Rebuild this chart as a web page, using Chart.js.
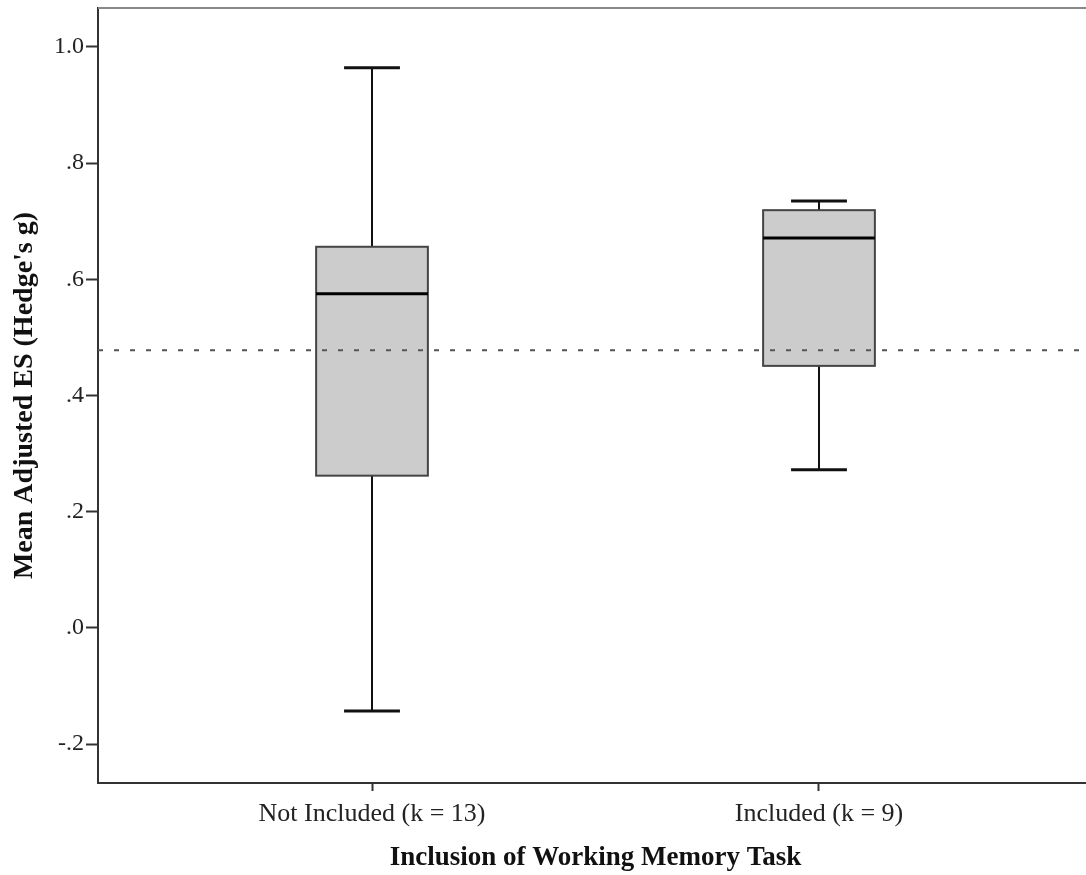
<!DOCTYPE html>
<html>
<head>
    <title>Inclusion of Working Memory Task</title>
    <script src="https://cdn.jsdelivr.net/npm/chart.js"></script>
    <style>
        body { margin: 0; overflow: hidden; background: #fff; }
    </style>
</head>
<body>
    <canvas id="boxChart" width="1100" height="875" style="display:block; width:1100px; height:875px;"></canvas>
    <script>
        // カテゴリと箱ひげの値
        const categories = ["Not Included (k = 13)", "Included (k = 9)"];
        const whiskerLow = [-0.143, 0.272];
        const q1Values = [0.262, 0.451];
        const medians = [0.575, 0.671];
        const q3Values = [0.656, 0.719];
        const whiskerHigh = [0.964, 0.735];
        const meanES = 0.478; // 全体の平均 (点線)

        // 軸の範囲と目盛り
        const xRange = [-0.613, 1.613];
        const yRange = [-0.267, 1.067];
        const yTickValues = [-0.2, 0, 0.2, 0.4, 0.6, 0.8, 1.0];
        const yTickLabels = ["-.2", ".0", ".2", ".4", ".6", ".8", "1.0"];

        const tickFont = { family: "'Liberation Serif', serif", size: 24 };
        const xTickFont = { family: "'Liberation Serif', serif", size: 26 };
        const titleFont = { family: "'Liberation Serif', serif", size: 27, weight: "bold" };
        const yTitleFont = { family: "'Liberation Serif', serif", size: 28, weight: "bold" };

        // 箱ひげ図をスケール経由で描く
        const boxPlugin = {
            id: "boxes",
            beforeDatasetsDraw(chart) {
                const { ctx, chartArea, scales: { x, y } } = chart;
                ctx.save();
                // 上の枠線
                ctx.strokeStyle = "#888";
                ctx.lineWidth = 2;
                ctx.beginPath();
                ctx.moveTo(chartArea.left, chartArea.top);
                ctx.lineTo(chartArea.right, chartArea.top);
                ctx.stroke();

                categories.forEach((c, i) => {
                    const cx = x.getPixelForValue(i);
                    const bl = x.getPixelForValue(i - 0.125);
                    const br = x.getPixelForValue(i + 0.125);
                    const cl = x.getPixelForValue(i - 0.0625);
                    const cr = x.getPixelForValue(i + 0.0625);
                    const yLo = y.getPixelForValue(whiskerLow[i]);
                    const yQ1 = y.getPixelForValue(q1Values[i]);
                    const yMed = y.getPixelForValue(medians[i]);
                    const yQ3 = y.getPixelForValue(q3Values[i]);
                    const yHi = y.getPixelForValue(whiskerHigh[i]);

                    // ひげ
                    ctx.strokeStyle = "#111";
                    ctx.lineWidth = 2;
                    ctx.beginPath();
                    ctx.moveTo(cx, yHi); ctx.lineTo(cx, yQ3);
                    ctx.moveTo(cx, yQ1); ctx.lineTo(cx, yLo);
                    ctx.stroke();
                    ctx.lineWidth = 3;
                    ctx.beginPath();
                    ctx.moveTo(cl, yHi); ctx.lineTo(cr, yHi);
                    ctx.moveTo(cl, yLo); ctx.lineTo(cr, yLo);
                    ctx.stroke();

                    // 箱
                    ctx.fillStyle = "#cccccc";
                    ctx.fillRect(bl, yQ3, br - bl, yQ1 - yQ3);
                    ctx.strokeStyle = "#444";
                    ctx.lineWidth = 2;
                    ctx.strokeRect(bl, yQ3, br - bl, yQ1 - yQ3);

                    // 中央値
                    ctx.strokeStyle = "#000";
                    ctx.lineWidth = 3;
                    ctx.beginPath();
                    ctx.moveTo(bl, yMed); ctx.lineTo(br, yMed);
                    ctx.stroke();
                });
                ctx.restore();
            },
        };

        const ctx = document.getElementById("boxChart").getContext("2d");

        const config = {
            type: "scatter",
            data: {
                datasets: [
                    {
                        label: "Mean ES",
                        type: "line",
                        data: [
                            { x: xRange[0], y: meanES },
                            { x: xRange[1], y: meanES },
                        ],
                        borderColor: "#555",
                        borderWidth: 2,
                        borderDash: [5, 11],
                        pointRadius: 0,
                        fill: false,
                    },
                ],
            },
            options: {
                responsive: false,
                animation: false,
                layout: { padding: { top: 8, right: 7, left: 0, bottom: 0 } },
                plugins: {
                    legend: { display: false },
                    tooltip: { enabled: false },
                },
                scales: {
                    x: {
                        type: "linear",
                        min: xRange[0],
                        max: xRange[1],
                        afterBuildTicks: (scale) => {
                            scale.ticks = categories.map((c, i) => ({ value: i }));
                        },
                        afterFit: (scale) => {
                            scale.height = 92;
                            scale.paddingLeft = 0;
                            scale.paddingRight = 0;
                        },
                        ticks: {
                            callback: (v) => categories[v],
                            font: xTickFont,
                            color: "#222",
                            padding: 8,
                            maxRotation: 0,
                        },
                        grid: {
                            drawOnChartArea: false,
                            tickLength: 8,
                            tickWidth: 2,
                            tickColor: "#333",
                        },
                        border: { display: true, color: "#333", width: 2 },
                        title: {
                            display: true,
                            text: "Inclusion of Working Memory Task",
                            font: titleFont,
                            color: "#111",
                            padding: { top: 0, bottom: 1 },
                        },
                    },
                    y: {
                        type: "linear",
                        min: yRange[0],
                        max: yRange[1],
                        afterBuildTicks: (scale) => {
                            scale.ticks = yTickValues.map((v) => ({ value: v }));
                        },
                        afterFit: (scale) => {
                            scale.width = 98;
                            scale.paddingTop = 0;
                            scale.paddingBottom = 0;
                        },
                        ticks: {
                            callback: (v, i) => yTickLabels[i],
                            font: tickFont,
                            color: "#222",
                            padding: 2,
                        },
                        grid: {
                            drawOnChartArea: false,
                            tickLength: 12,
                            tickWidth: 2,
                            tickColor: "#333",
                        },
                        border: { display: true, color: "#333", width: 2 },
                        title: {
                            display: true,
                            text: "Mean Adjusted ES (Hedge's g)",
                            font: yTitleFont,
                            color: "#111",
                            padding: { top: 8, bottom: 0 },
                        },
                    },
                },
            },
            plugins: [boxPlugin],
        };

        const boxChart = new Chart(ctx, config);
    </script>
</body>
</html>
